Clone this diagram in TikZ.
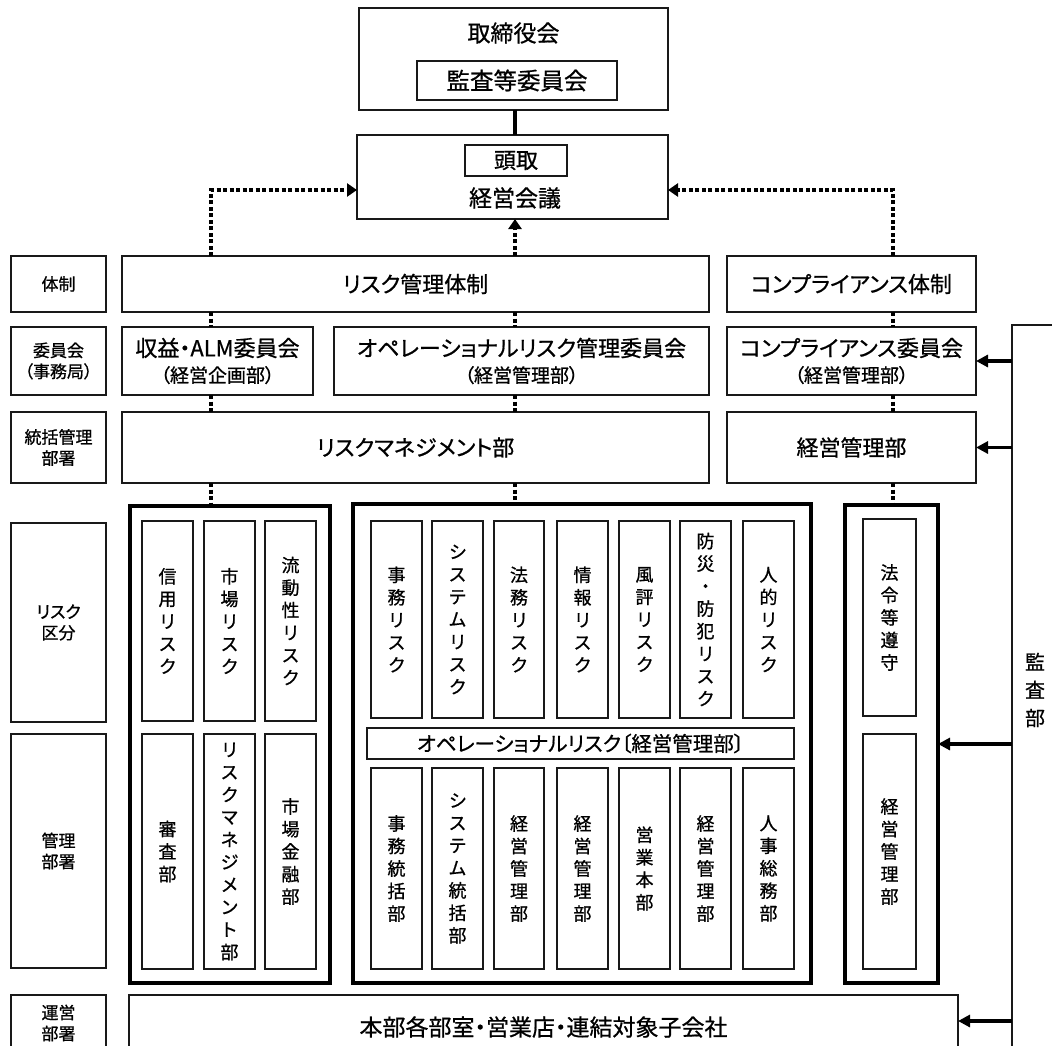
\documentclass[tikz,border=0pt]{standalone}
\usepackage{fontspec}
\newfontfamily\jp[RawFeature=+palt,FakeBold=0.8]{Noto Sans CJK JP}
\usetikzlibrary{arrows.meta}
\newcommand\bxnode[7][]{%
  \pgfmathsetmacro\bxcx{(#3+#5)/2}%
  \pgfmathsetmacro\bxcy{(#4+#6)/2}%
  \pgfmathsetmacro\bxw{#5-#3}%
  \pgfmathsetmacro\bxh{#6-#4}%
  \node[box,minimum width=\bxw pt,minimum height=\bxh pt,#1] (#2) at (\bxcx,\bxcy) {#7};}
\begin{document}
\begin{tikzpicture}[x=1pt,y=-1pt,
 box/.style={draw=black!90,line width=1.6pt,inner sep=0pt,outer sep=0pt,align=center,font=\jp\fontsize{22}{26}\selectfont},
 lbl/.style={font=\jp\fontsize{17}{21}\selectfont},
 vtx/.style={font=\jp\fontsize{18}{22.5}\selectfont},
 thickbox/.style={line width=4.5pt,draw=black},
 dotl/.style={line width=4pt,dash pattern=on 4pt off 2.5pt},
 dotarr/.style={dotl,-{Triangle[length=10pt,width=13pt]}},
 audarr/.style={line width=3.5pt,-{Triangle[length=12pt,width=12pt]}},
 txt/.style={inner sep=0pt,align=center,font=\jp\fontsize{23}{27}\selectfont}]
\useasboundingbox (0,0) rectangle (1052,1046);
\clip (0,0) rectangle (1052,1046);
\fill[white] (0,0) rectangle (1052,1046);
% guide coordinates
\coordinate (xL) at (211,0);
\coordinate (xM) at (515,0);
\coordinate (xR) at (893,0);
\coordinate (yA) at (0,190);
\coordinate (yB) at (0,1021);
% top
\bxnode{board}{359}{8}{668}{110}{}
\node[txt] (boardT) at (513.5,33) {取締役会};
\bxnode[font=\jp\fontsize{23.5}{27}\selectfont]{audc}{417}{61}{617}{100}{監査等委員会}
\bxnode{mgmt}{357}{135}{668}{219}{}
\bxnode[font=\jp\fontsize{22}{26}\selectfont]{pres}{465}{145}{567}{176}{頭取}
\node[txt] (mgmtT) at (515,198) {経営会議};
\draw[line width=3.5pt] (board.south -| xM) -- (mgmt.north -| xM);
% row 1
\bxnode[lbl]{l1}{11}{256}{106}{312}{体制}
\bxnode{riskSys}{122}{256}{709}{312}{リスク管理体制}
\bxnode{compSys}{727}{256}{976}{312}{コンプライアンス体制}
% row 2
\bxnode[lbl]{l2}{11}{327}{106}{395}{委員会\\（事務局）}
\bxnode{alm}{122}{327}{313}{395}{収益・ALM委員会\\\fontsize{19}{24}\selectfont（経営企画部）}
\bxnode{opc}{334}{327}{709}{395}{オペレーショナルリスク管理委員会\\\fontsize{19}{24}\selectfont（経営管理部）}
\bxnode{compc}{727}{327}{976}{395}{コンプライアンス委員会\\\fontsize{19}{24}\selectfont（経営管理部）}
% row 3
\bxnode[lbl]{l3}{11}{412}{106}{483}{統括管理\\部署}
\bxnode{rmd}{122}{412}{709}{483}{リスクマネジメント部}
\bxnode{mcd}{727}{412}{976}{483}{経営管理部}
% labels lower
\bxnode[lbl]{l4}{11}{523}{106}{722}{リスク\\区分}
\bxnode[lbl]{l5}{11}{734}{106}{968}{管理\\部署}
\bxnode[lbl]{l6}{11}{995}{106}{1080}{}
\node[lbl,inner sep=0pt,align=center] (l6T) at (58.5,1023) {運営\\部署};
% thick groups
\bxnode[thickbox]{gL}{130}{506}{330}{983}{}
\bxnode[thickbox]{gM}{353}{504}{811}{983}{}
\bxnode[thickbox]{gR}{845}{505}{938}{983}{}
% left group
\bxnode[vtx]{a1}{142}{521}{193}{721}{信\\用\\リ\\ス\\ク}
\bxnode[vtx]{a2}{204}{521}{255}{721}{市\\場\\リ\\ス\\ク}
\bxnode[vtx]{a3}{265}{521}{316}{721}{流\\動\\性\\リ\\ス\\ク}
\bxnode[vtx]{b1}{142}{734}{193}{969}{審\\査\\部}
\bxnode[vtx]{b2}{204}{734}{255}{969}{リ\\ス\\ク\\マ\\ネ\\ジ\\メ\\ン\\ト\\部}
\bxnode[vtx]{b3}{265}{734}{316}{969}{市\\場\\金\\融\\部}
% middle group
\bxnode[vtx]{m1}{371}{521}{422}{718}{事\\務\\リ\\ス\\ク}
\bxnode[vtx]{m2}{432}{521}{483}{718}{シ\\ス\\テ\\ム\\リ\\ス\\ク}
\bxnode[vtx]{m3}{494}{521}{544}{718}{法\\務\\リ\\ス\\ク}
\bxnode[vtx]{m4}{557}{521}{608}{718}{情\\報\\リ\\ス\\ク}
\bxnode[vtx]{m5}{619}{521}{670}{718}{風\\評\\リ\\ス\\ク}
\bxnode[vtx]{m6}{680}{521}{731}{718}{防\\災\\・\\防\\犯\\リ\\ス\\ク}
\bxnode[vtx]{m7}{743}{521}{794}{718}{人\\的\\リ\\ス\\ク}
\bxnode[font=\jp\fontsize{20.5}{24}\selectfont]{opb}{367}{728}{794}{759}{オペレーショナルリスク〔経営管理部〕}
\bxnode[vtx]{n1}{371}{768}{422}{969}{事\\務\\統\\括\\部}
\bxnode[vtx]{n2}{432}{768}{483}{969}{シ\\ス\\テ\\ム\\統\\括\\部}
\bxnode[vtx]{n3}{494}{768}{544}{969}{経\\営\\管\\理\\部}
\bxnode[vtx]{n4}{557}{768}{608}{969}{経\\営\\管\\理\\部}
\bxnode[vtx]{n5}{619}{768}{670}{969}{営\\業\\本\\部}
\bxnode[vtx]{n6}{680}{768}{731}{969}{経\\営\\管\\理\\部}
\bxnode[vtx]{n7}{743}{768}{794}{969}{人\\事\\総\\務\\部}
% right group
\bxnode[vtx]{r1}{863}{519}{916}{716}{法\\令\\等\\遵\\守}
\bxnode[vtx]{r2}{863}{734}{916}{969}{経\\営\\管\\理\\部}
% bottom
\bxnode{hq}{129}{995}{958}{1080}{}
\node[txt] (hqT) at (543.5,1027) {本部各部室・営業店・連結対象子会社};
% audit
\bxnode{aud}{1012}{325}{1090}{1090}{}
\node[inner sep=0pt,align=center,font=\jp\fontsize{20}{28}\selectfont] (audT) at (1035,690) {監\\査\\部};
% dotted connectors
\draw[dotarr] (riskSys.north -| xL) |- (mgmt.west |- yA);
\draw[dotarr] (riskSys.north -| xM) -- (mgmt.south -| xM);
\draw[dotarr] (compSys.north -| xR) |- (mgmt.east |- yA);
\draw[dotl] (riskSys.south -| xL) -- (alm.north -| xL);
\draw[dotl] (riskSys.south -| xM) -- (opc.north -| xM);
\draw[dotl] (compSys.south -| xR) -- (compc.north -| xR);
\draw[dotl] (alm.south -| xL) -- (rmd.north -| xL);
\draw[dotl] (opc.south -| xM) -- (rmd.north -| xM);
\draw[dotl] (compc.south -| xR) -- (mcd.north -| xR);
\draw[dotl] (rmd.south -| xL) -- (gL.north -| xL);
\draw[dotl] (rmd.south -| xM) -- (gM.north -| xM);
\draw[dotl] (mcd.south -| xR) -- (gR.north -| xR);
% audit arrows
\draw[audarr] (aud.west |- compc.east) -- (compc.east);
\draw[audarr] (aud.west |- mcd.east) -- (mcd.east);
\draw[audarr] (aud.west |- gR.east) -- (gR.east);
\draw[audarr] (aud.west |- yB) -- (hq.east |- yB);
\end{tikzpicture}
\end{document}
